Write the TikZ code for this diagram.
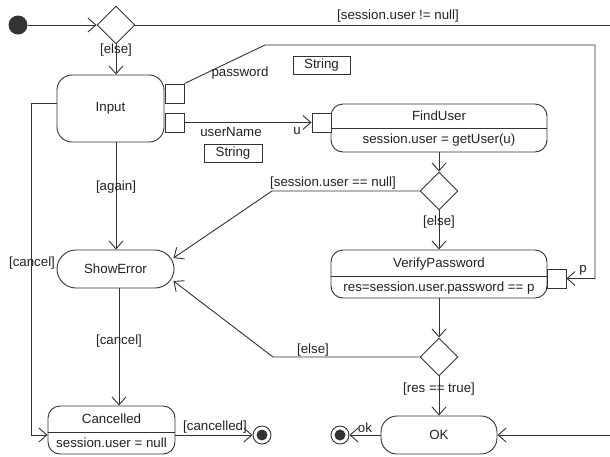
\documentclass[tikz,border=0pt]{standalone}
\usepackage{fontspec}
\setmainfont{Liberation Sans}
\usetikzlibrary{arrows.meta,shapes.geometric,calc}
\definecolor{lncol}{HTML}{333333}
\definecolor{txtcol}{HTML}{222222}
\begin{document}
\begin{tikzpicture}[x=1pt,y=-1pt,
  font=\fontsize{13.3}{15}\selectfont,
  ln/.style={draw=lncol, line width=0.9pt},
  arr/.style={ln, -{Straight Barb[length=8pt,width=14pt,line width=0.9pt]}},
  box/.style={draw=lncol, line width=0.9pt, rounded corners=#1, fill=white, inner sep=0pt, text=txtcol},
  dec/.style={draw=lncol, line width=0.9pt, diamond, fill=white, minimum width=38pt, minimum height=38pt, inner sep=0pt},
  pinbox/.style={draw=lncol, line width=0.9pt, fill=white, minimum size=19pt, inner sep=0pt},
  typ/.style={draw=lncol, line width=0.9pt, inner sep=0pt, minimum height=18pt, text=txtcol},
  lbl/.style={inner sep=0pt, text=txtcol},
  txt/.style={inner sep=0pt, text=txtcol},
  finalnode/.style={circle, draw=lncol, line width=0.9pt, fill=white, minimum size=18pt, inner sep=0pt,
    path picture={\fill[lncol] (path picture bounding box.center) circle (5.5pt);}},
]
\useasboundingbox (0,0) rectangle (610,456);

% nodes
\node[circle, fill=lncol, minimum size=19pt, inner sep=0pt] (init) at (18,25) {};
\node[dec] (d1) at (116,25) {};
\node[box=15pt, minimum width=107pt, minimum height=67pt] (Input) at (110.5,108.5) {Input};
\node[pinbox] (pPw) at (174.5,93.5) {};
\node[pinbox] (pUn) at (174.5,122.5) {};
\node[typ, minimum width=57pt] (tPw) at (321.5,65) {String};
\node[typ, minimum width=58pt] (tUn) at (233,153) {String};

\node[box=12pt, minimum width=216pt, minimum height=48pt] (FindUser) at (439,128) {};
\node[pinbox] (pU) at (321.5,122.5) {};
\node[txt] (FindUserT) at (439,116) {FindUser};
\node[txt] (FindUserC) at (439,140) {session.user = getUser(u)};

\node[dec] (d2) at (439,191) {};

\node[box=12pt, minimum width=216pt, minimum height=48pt] (VP) at (439,274) {};
\node[pinbox] (pP) at (556.5,278.5) {};
\node[txt] (VPT) at (439,264) {VerifyPassword};
\node[txt] (VPC) at (439,288) {res=session.user.password == p};

\node[dec] (d3) at (439,357) {};

\node[box=19pt, minimum width=117pt, minimum height=38pt] (ShowError) at (115.5,269) {ShowError};

\node[box=12pt, minimum width=127pt, minimum height=48pt] (Cancelled) at (111.5,430) {};
\node[txt] (CancelledT) at (111.5,419) {Cancelled};
\node[txt] (CancelledC) at (111.5,443) {session.user = null};

\node[box=16pt, minimum width=116pt, minimum height=38pt] (OK) at (439,435) {OK};

\node[finalnode] (fin1) at (262,435) {};
\node[finalnode] (fin2) at (340,435) {};

% dividers
\draw[ln] (FindUser.west) -- (FindUser.east);
\draw[ln] ($(VP.west)+(0,2)$) -- ($(VP.east)+(0,2)$);
\draw[ln] ($(Cancelled.west)+(0,2)$) -- ($(Cancelled.east)+(0,2)$);

% free ends and bends
\coordinate (rtop) at (610,25);
\coordinate (rbot) at (610,435);
\coordinate (pw1) at (265,45);
\coordinate (pw2) at (595,45);
\coordinate (c1) at (272,191);
\coordinate (c2) at (273,357);
\coordinate (ax) at (116,0);
\coordinate (bx) at (119,0);

% connectors
\draw[arr] (init) -- (d1);
\draw[ln] (d1.east) -- (rtop);
\draw[arr] (d1.south) -- (Input.north -| d1.south);
\draw[arr] (pPw.north east) -- (pw1) -- (pw2) |- (pP.east);
\draw[arr] (pUn) -- (pU);
\draw[arr] (FindUser) -- (d2);
\draw[arr] (d2.west) -- (c1) -- ($(ShowError.east)+(-1,-11)$);
\draw[arr] (d2) -- (VP);
\draw[arr] (VP) -- (d3);
\draw[arr] (d3.west) -- (c2) -- ($(ShowError.east)+(-1,12)$);
\draw[arr] (d3) -- (OK);
\draw[arr] (OK) -- (fin2);
\draw[arr] (rbot) -- (OK);
\draw[arr] (Input.south -| ax) -- (ShowError.north -| ax);
\draw[arr] (ShowError.south -| bx) -- (Cancelled.north -| bx);
\draw[arr] ($(Input.west)+(0,-5.5)$) -- ++(-25,0) |- ($(Cancelled.west)+(0,5)$);
\draw[arr] ($(Cancelled.east)+(0,5)$) -- (fin1);

% labels
\node[lbl] (lNotNull) at (398,16) {[session.user != null]};
\node[lbl] (lElse1) at (116,50) {[else]};
\node[lbl] (lPassword) at (240,73) {password};
\node[lbl] (lUserName) at (231,132) {userName};
\node[lbl] (lU) at (297,131) {u};
\node[lbl] (lP) at (583,270) {p};
\node[lbl] (lNull) at (333,183) {[session.user == null]};
\node[lbl] (lElse2) at (439,222) {[else]};
\node[lbl] (lElse3) at (313,350) {[else]};
\node[lbl] (lTrue) at (439,389) {[res == true]};
\node[lbl] (lOk) at (365,428) {ok};
\node[lbl] (lAgain) at (116,187) {[again]};
\node[lbl] (lCancel1) at (119,341) {[cancel]};
\node[lbl] (lCancel2) at (32,263) {[cancel]};
\node[lbl] (lCancelled) at (215,427) {[cancelled]};
\end{tikzpicture}
\end{document}
